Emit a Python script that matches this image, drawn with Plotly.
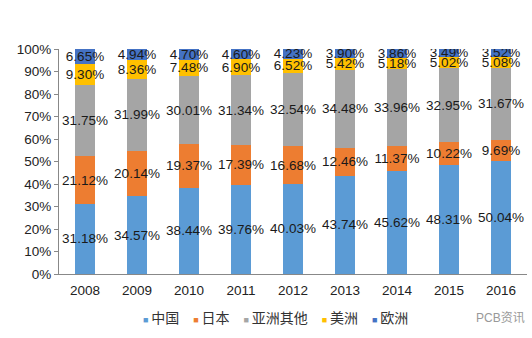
import plotly.graph_objects as go

years = ["2008", "2009", "2010", "2011", "2012", "2013", "2014", "2015", "2016"]
china = [31.18, 34.57, 38.44, 39.76, 40.03, 43.74, 45.62, 48.31, 50.04]
japan = [21.12, 20.14, 19.37, 17.39, 16.68, 12.46, 11.37, 10.22, 9.69]
asia_other = [31.75, 31.99, 30.01, 31.34, 32.54, 34.48, 33.96, 32.95, 31.67]
america = [9.30, 8.36, 7.48, 6.90, 6.52, 5.42, 5.18, 5.02, 5.08]
europe = [6.65, 4.94, 4.70, 4.60, 4.23, 3.90, 3.86, 3.49, 3.52]

series = [
    ("中国", china, "#5B9BD5"),
    ("日本", japan, "#ED7D31"),
    ("亚洲其他", asia_other, "#A5A5A5"),
    ("美洲", america, "#FFC000"),
    ("欧洲", europe, "#4472C4"),
]

font_family = "Liberation Sans, Arial, Noto Sans CJK SC, sans-serif"

fig = go.Figure()
for name, vals, color in series:
    fig.add_trace(go.Bar(
        x=years, y=vals, name=name,
        marker=dict(color=color, line=dict(width=0)),
        text=[f"{v:.2f}%" for v in vals],
        textposition="inside",
        insidetextanchor="middle",
        textangle=0,
        constraintext="none",
        textfont=dict(color="#1a1a1a", size=13.5, family=font_family),
        width=0.385,
        showlegend=False,
    ))

fig.update_layout(
    barmode="stack",
    width=532, height=338,
    margin=dict(l=59, r=5, t=49, b=64),
    paper_bgcolor="white", plot_bgcolor="white",
    font=dict(family=font_family, size=13, color="#222222"),
    showlegend=False,
    xaxis=dict(showline=True, linecolor="#888888", linewidth=1, ticks="",
               ticklabelstandoff=4,
               tickfont=dict(size=13.5, color="#222222"), showgrid=False),
    yaxis=dict(range=[0, 100], tickvals=list(range(0, 101, 10)),
               ticktext=[f"{v}%" for v in range(0, 101, 10)],
               showline=True, linecolor="#888888", linewidth=1,
               ticks="outside", ticklen=4, tickcolor="#888888",
               tickfont=dict(size=13.5, color="#222222"), showgrid=False),
)

# Legend drawn as a compact text line (matches the reference's tight spacing)
legend_text = "\u2003".join(
    f"<span style='color:{c}; font-size:9px'>■</span>\u2009{n}" for n, _, c in series
)
fig.add_annotation(text=legend_text, xref="paper", yref="paper",
                   x=(275 - 59) / 468, y=-(318 - 274) / 225,
                   xanchor="center", yanchor="middle", showarrow=False,
                   font=dict(size=14, color="#333333"))

fig.add_annotation(text="PCB资讯", xref="paper", yref="paper", x=1.0,
                   y=-(318 - 274) / 225,
                   xanchor="right", yanchor="middle", showarrow=False,
                   font=dict(size=12, color="#999999"))

fig.write_html("out.html")
